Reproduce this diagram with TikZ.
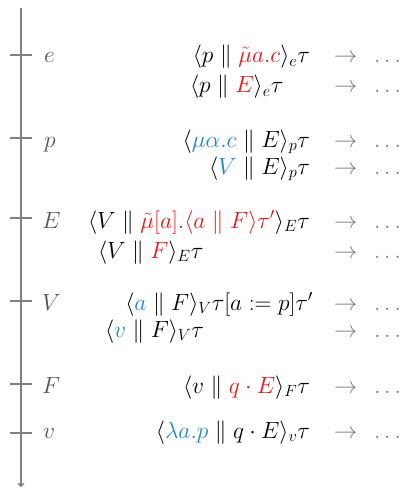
\documentclass[tikz,border=0pt]{standalone}
\usepackage{amsmath}
\usepackage{graphicx}
\usetikzlibrary{arrows.meta}
\definecolor{hred}{RGB}{240,20,20}
\definecolor{hblue}{RGB}{28,136,212}
\definecolor{axisgray}{RGB}{128,128,128}
\definecolor{labgray}{RGB}{85,85,85}
\newcommand{\pr}{\mathrel{\|}}
\newcommand{\R}[1]{\textcolor{hred}{#1}}
\newcommand{\B}[1]{\textcolor{hblue}{#1}}
\newcommand{\M}[1]{\scalebox{1.13}{$#1$}}
\begin{document}
\begin{tikzpicture}[x=1pt,y=-1pt,
  every node/.style={inner sep=0pt,outer sep=0pt,font=\fontsize{20.74}{25}\selectfont},
  expr/.style={anchor=base east},
  exprl/.style={anchor=base west},
  lab/.style={anchor=base west,text=labgray},
  arr/.style={anchor=base west,text=axisgray},
  axis/.style={draw=axisgray,line width=1.1pt},
  tick/.style={draw=axisgray,line width=1.1pt}]
\useasboundingbox (0,0) rectangle (407,489);
\coordinate (top) at (21,8);
\coordinate (bot) at (21,487);
\draw[axis,-{Straight Barb[length=3pt,width=6pt]}] (top) -- (bot);
% ticks
\foreach \n/\y in {te/55,tp/138,tE/218,tV/301,tF/384,tv/433}{
  \coordinate (\n a) at (10,\y);
  \coordinate (\n b) at (32,\y);
  \draw[tick] (\n a) -- (\n b);
}
% labels
\node[lab] (le) at (44,63) {\M{e}};
\node[lab] (lp) at (44,147) {\M{p}};
\node[lab] (lE) at (42,228) {\M{E}};
\node[lab] (lV) at (42,310) {\M{V}};
\node[lab] (lF) at (42,393) {\M{F}};
\node[lab] (lv) at (43,438) {\M{v}};
% expressions
\node[expr] (e1) at (310,63) {\M{\langle p \pr \R{\tilde\mu a.c}\rangle_e\tau}};
\node[exprl] (e2) at (190,93) {\M{\langle p \pr \R{E}\rangle_e\tau}};
\node[expr] (p1) at (310,147) {\M{\langle \B{\mu\alpha.c} \pr E\rangle_p\tau}};
\node[expr] (p2) at (310,174) {\M{\langle \B{V} \pr E\rangle_p\tau}};
\node[expr] (E1) at (310,228) {\M{\langle V \pr \R{\tilde\mu[a].\langle a \pr F\rangle\tau'}\rangle_E\tau}};
\node[exprl] (E2) at (98,258) {\M{\langle V \pr \R{F}\rangle_E\tau}};
\node[expr] (V1) at (313,310) {\M{\langle \B{a} \pr F\rangle_V\tau[a:=p]\tau'}};
\node[exprl] (V2) at (105,337) {\M{\langle \B{v} \pr F\rangle_V\tau}};
\node[expr] (F1) at (310,393) {\M{\langle v \pr \R{q\cdot E}\rangle_F\tau}};
\node[expr] (v1) at (310,438) {\M{\langle \B{\lambda a.p} \pr q\cdot E\rangle_v\tau}};
% arrows and dots
\foreach \n/\y in {e1/63,e2/93,p1/147,p2/174,E1/228,E2/258,V1/310,V2/337,F1/393,v1/438}{
  \node[arr] (a\n) at (334,\y) {\M{\rightarrow}};
  \node[arr] (d\n) at (374,\y) {\M{\ldots}};
}
\end{tikzpicture}
\end{document}
